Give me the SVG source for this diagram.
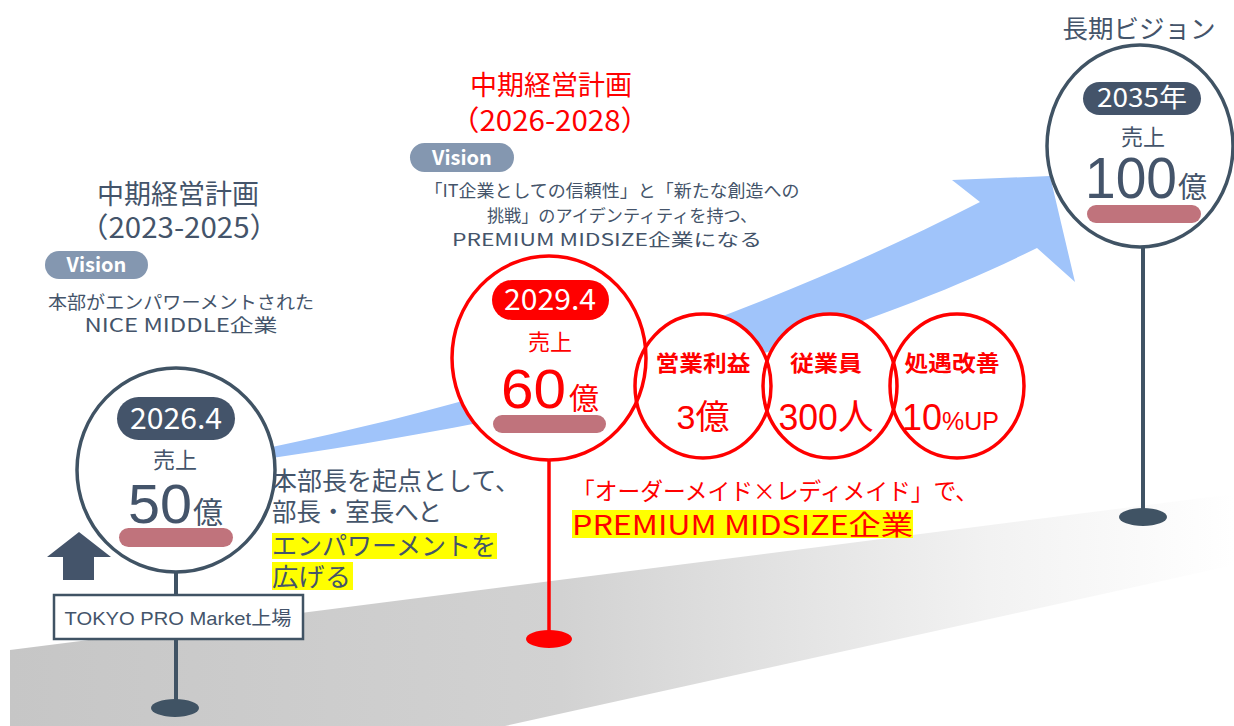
<svg xmlns="http://www.w3.org/2000/svg" width="1234" height="726" viewBox="0 0 1234 726">
<defs>
<style>
.jp{font-family:"Noto Sans CJK JP","Liberation Sans",sans-serif;}
.num{font-family:"Liberation Sans","Noto Sans CJK JP",sans-serif;}
.dk{fill:#44546a;}
.rd{fill:#ff0000;}
.wt{fill:#ffffff;}
.mid{text-anchor:middle;}
.ring{fill:none;stroke:#405364;stroke-width:3.5;}
.ringr{fill:none;stroke:#ff0000;stroke-width:3.5;}
.bg{fill:#ffffff;stroke:none;}
.pill{fill:#44546a;}
.vis{fill:#8497b0;}
.bar{fill:#c0737c;}
.pole{stroke:#405364;stroke-width:4;}
.poler{stroke:#ff0000;stroke-width:3.5;}
.hl{fill:#ffff00;}
</style>
<linearGradient id="roadGrad" gradientUnits="userSpaceOnUse" x1="10" y1="0" x2="1234" y2="0">
<stop offset="0" stop-color="#c6c6c6"/>
<stop offset="0.45" stop-color="#d2d2d2"/>
<stop offset="0.8" stop-color="#f2f2f2"/>
<stop offset="1" stop-color="#ffffff"/>
</linearGradient>
</defs>
<rect x="0" y="0" width="1234" height="726" fill="#ffffff"/>
<g id="road">
<polygon points="10,650 1234,494 1234,565 505,726 10,726" fill="url(#roadGrad)"/>
</g>
<g id="connectors">
<path id="growth-arrow" d="M 272 447 C 500 400 750 320 980 202 L 952 180 L 1050 176 L 1075 282 L 1037 248 C 850 340 600 410 272 458 Z" fill="#a0c4fa"/>
</g>
<g id="circle-fills">
<ellipse class="bg" cx="176" cy="470" rx="99" ry="102"/>
<ellipse class="bg" cx="1140" cy="146" rx="93" ry="101"/>
<ellipse class="bg" cx="549" cy="358" rx="97" ry="102"/>
<ellipse class="bg" cx="703" cy="386" rx="68" ry="72"/>
<ellipse class="bg" cx="830" cy="386" rx="67" ry="72"/>
<ellipse class="bg" cx="957" cy="386" rx="67" ry="72"/>
</g>
<g id="plan-2023-2025">
<text class="jp dk mid" x="178" y="204" font-size="27">中期経営計画</text>
<text class="jp dk mid" x="179" y="238" font-size="28" textLength="200" lengthAdjust="spacingAndGlyphs">（2023-2025）</text>
<rect class="vis" x="45" y="251" width="103" height="28" rx="14"/>
<text class="jp wt mid" x="96.5" y="272" font-size="20" font-weight="bold">Vision</text>
<text class="jp dk mid" x="181" y="309" font-size="18" textLength="266" lengthAdjust="spacingAndGlyphs">本部がエンパワーメントされた</text>
<text class="jp dk mid" x="181" y="332" font-size="18.5" textLength="193" lengthAdjust="spacingAndGlyphs">NICE MIDDLE企業</text>
</g>
<g id="node-2026">
<line class="pole" x1="176" y1="572" x2="176" y2="596"/>
<line class="pole" x1="176" y1="638" x2="176" y2="704"/>
<ellipse cx="175" cy="708" rx="24" ry="9" fill="#405364"/>
<ellipse class="ring" cx="176" cy="470" rx="99" ry="102"/>
<rect class="pill" x="117" y="397" width="118" height="43" rx="21.5"/>
<text class="jp wt mid" x="176" y="429" font-size="29" textLength="92" lengthAdjust="spacingAndGlyphs">2026.4</text>
<text class="jp dk mid" x="175" y="468" font-size="22">売上</text>
<text class="num dk" x="128" y="523" font-size="56" textLength="64" lengthAdjust="spacingAndGlyphs">50</text>
<text class="jp dk" x="193" y="523" font-size="30">億</text>
<rect class="bar" x="119" y="528" width="114" height="19" rx="9.5"/>
</g>
<g id="tokyo-pro-market">
<rect x="54" y="595" width="249" height="44" fill="#ffffff" stroke="#405364" stroke-width="2.5"/>
<text class="num dk mid" x="178" y="625" font-size="19" textLength="227" lengthAdjust="spacingAndGlyphs">TOKYO PRO Market上場</text>
<polygon points="47,557 79,532 111,557 94,557 94,580 63,580 63,557" fill="#44546a"/>
</g>
<g id="empowerment-note">
<rect class="hl" x="272" y="533" width="225" height="26"/>
<rect class="hl" x="272" y="562" width="81" height="28"/>
<text class="jp dk" x="272" y="490" font-size="25" textLength="248" lengthAdjust="spacingAndGlyphs">本部長を起点として、</text>
<text class="jp dk" x="272" y="521" font-size="25" textLength="170" lengthAdjust="spacingAndGlyphs">部長・室長へと</text>
<text class="jp dk" x="272" y="555" font-size="25" textLength="224" lengthAdjust="spacingAndGlyphs">エンパワーメントを</text>
<text class="jp dk" x="272" y="586" font-size="25" textLength="79" lengthAdjust="spacingAndGlyphs">広げる</text>
</g>
<g id="plan-2026-2028">
<text class="jp rd mid" x="551" y="95" font-size="27">中期経営計画</text>
<text class="jp rd mid" x="550" y="131" font-size="28" textLength="200" lengthAdjust="spacingAndGlyphs">（2026-2028）</text>
<rect class="vis" x="410" y="143" width="104" height="29" rx="14.5"/>
<text class="jp wt mid" x="462" y="165" font-size="20" font-weight="bold">Vision</text>
<text class="jp dk mid" x="612" y="197" font-size="17.5" textLength="375" lengthAdjust="spacingAndGlyphs">「IT企業としての信頼性」と「新たな創造への</text>
<text class="jp dk mid" x="622" y="222" font-size="17.5" textLength="270" lengthAdjust="spacingAndGlyphs">挑戦」のアイデンティティを持つ、</text>
<text class="jp dk mid" x="607" y="246" font-size="17.5" textLength="310" lengthAdjust="spacingAndGlyphs">PREMIUM MIDSIZE企業になる</text>
</g>
<g id="node-2029">
<line class="poler" x1="549" y1="460" x2="549" y2="633"/>
<ellipse cx="549" cy="639" rx="23" ry="9" fill="#ff0000"/>
<ellipse class="ringr" cx="549" cy="358" rx="97" ry="102"/>
<rect x="492" y="280" width="117" height="40" rx="20" fill="#ff0000"/>
<text class="jp wt mid" x="550" y="310" font-size="29" textLength="92" lengthAdjust="spacingAndGlyphs">2029.4</text>
<text class="jp rd mid" x="550" y="350" font-size="22">売上</text>
<text class="num rd" x="501" y="408" font-size="56" textLength="65" lengthAdjust="spacingAndGlyphs">60</text>
<text class="jp rd" x="569" y="409" font-size="30">億</text>
<rect class="bar" x="493" y="415" width="113" height="18" rx="9"/>
</g>
<g id="kpi-operating-profit">
<ellipse class="ringr" cx="703" cy="386" rx="68" ry="72"/>
<text class="jp rd mid" x="703" y="371" font-size="22" font-weight="bold" textLength="95" lengthAdjust="spacingAndGlyphs">営業利益</text>
<text class="num rd mid" x="703" y="429" font-size="34">3億</text>
</g>
<g id="kpi-employees">
<ellipse class="ringr" cx="830" cy="386" rx="67" ry="72"/>
<text class="jp rd mid" x="826" y="371" font-size="22" font-weight="bold" textLength="72" lengthAdjust="spacingAndGlyphs">従業員</text>
<text class="num rd mid" x="826" y="430" font-size="36" textLength="95" lengthAdjust="spacingAndGlyphs">300人</text>
</g>
<g id="kpi-compensation">
<ellipse class="ringr" cx="957" cy="386" rx="67" ry="72"/>
<text class="jp rd mid" x="952" y="371" font-size="22" font-weight="bold" textLength="95" lengthAdjust="spacingAndGlyphs">処遇改善</text>
<text class="num rd" x="902" y="430" font-size="36">10<tspan font-size="25">%UP</tspan></text>
</g>
<g id="strategy-note">
<rect class="hl" x="572" y="510" width="341" height="28"/>
<text class="jp rd" x="572" y="500" font-size="23.5" textLength="406" lengthAdjust="spacingAndGlyphs">「オーダーメイド×レディメイド」で、</text>
<text class="jp rd" x="572" y="535" font-size="27" textLength="341" lengthAdjust="spacingAndGlyphs">PREMIUM MIDSIZE企業</text>
</g>
<g id="node-2035">
<text class="jp dk mid" x="1139" y="38" font-size="25.5">長期ビジョン</text>
<line class="pole" x1="1143" y1="247" x2="1143" y2="512"/>
<ellipse cx="1143" cy="517" rx="24" ry="9" fill="#405364"/>
<ellipse class="ring" cx="1140" cy="146" rx="93" ry="101"/>
<rect class="pill" x="1083" y="82" width="118" height="33" rx="16.5"/>
<text class="jp wt mid" x="1142" y="107" font-size="26" textLength="90" lengthAdjust="spacingAndGlyphs">2035年</text>
<text class="jp dk mid" x="1143" y="145" font-size="22">売上</text>
<text class="num dk" x="1085" y="198" font-size="58" textLength="92" lengthAdjust="spacingAndGlyphs">100</text>
<text class="jp dk" x="1178" y="198" font-size="29">億</text>
<rect class="bar" x="1087" y="205" width="114" height="18" rx="9"/>
</g>
</svg>
